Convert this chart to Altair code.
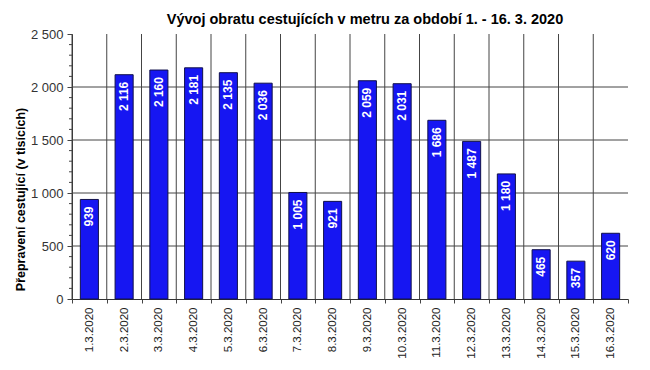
import altair as alt
import pandas as pd

dates = ["1.3.2020", "2.3.2020", "3.3.2020", "4.3.2020", "5.3.2020", "6.3.2020",
         "7.3.2020", "8.3.2020", "9.3.2020", "10.3.2020", "11.3.2020", "12.3.2020",
         "13.3.2020", "14.3.2020", "15.3.2020", "16.3.2020"]
passengers = [939, 2116, 2160, 2181, 2135, 2036, 1005, 921, 2059, 2031, 1686, 1487,
              1180, 465, 357, 620]
y_ticks = [0, 500, 1000, 1500, 2000, 2500]
h_grid = [500, 1000, 1500, 2000]
minor_ticks = [v for v in range(100, 2500, 100) if v % 500 != 0]

FONT = "Liberation Sans"
GRID = "#444444"
Y_TITLE = "Přepravení cestující (v tisících)"

df = pd.DataFrame({"date": dates, "value": passengers})
df["label"] = [f"{v:,}".replace(",", " ") for v in passengers]

xscale = alt.Scale(domain=dates, paddingInner=0, paddingOuter=0)
yscale = alt.Scale(domain=[0, 2500], nice=False)

x_axis = alt.Axis(
    labelAngle=270,
    labelAlign="right",
    labelBaseline="middle",
    labelFont=FONT,
    labelFontSize=11.5,
    labelColor="#222222",
    labelPadding=4,
    tickBand="extent",
    tickSize=4,
    tickColor=GRID,
    domainColor="#333333",
    grid=False,
)
y_axis = alt.Axis(
    values=y_ticks,
    labelExpr="replace(format(datum.value, ','), ',', ' ')",
    labelFont=FONT,
    labelFontSize=13,
    labelColor="#333333",
    labelPadding=4,
    tickSize=5,
    tickColor=GRID,
    domainColor="#333333",
    grid=False,
    titleFont=FONT,
    titleFontSize=12.5,
    titleFontWeight="bold",
    titleColor="#000000",
    titleAngle=270,
    titleX=-52,
    titleY=165,
    titleAlign="center",
    titleBaseline="middle",
)

def X(field, **kw):
    return alt.X(field, scale=xscale, sort=None, title=None, axis=x_axis, **kw)

def Y(field):
    return alt.Y(field, scale=yscale, title=Y_TITLE, axis=y_axis)

hgrid = alt.Chart(pd.DataFrame({"value": h_grid})).mark_rule(
    color=GRID, strokeWidth=1
).encode(y=Y("value:Q"))

vgrid = alt.Chart(df).mark_rule(color=GRID, strokeWidth=1).encode(
    x=X("date:N", bandPosition=0)
)

minor = alt.Chart(pd.DataFrame({"value": minor_ticks})).mark_rule(
    color=GRID, strokeWidth=1
).encode(
    y=Y("value:Q"),
    x=alt.value(-3),
    x2=alt.value(0),
)

bars = alt.Chart(df).mark_bar(
    color="#1616F2", stroke="#10104a", strokeWidth=1, width={"band": 0.52}
).encode(
    x=X("date:N"),
    y=Y("value:Q"),
)

labels = alt.Chart(df).mark_text(
    angle=270,
    align="right",
    baseline="middle",
    dx=-7,
    color="white",
    font=FONT,
    fontSize=12,
    fontWeight="bold",
).encode(
    x=X("date:N"),
    y=Y("value:Q"),
    text="label:N",
)

chart = alt.layer(hgrid, vgrid, minor, bars, labels).properties(
    width=556,
    height=265,
    autosize=alt.AutoSizeParams(type="none"),
    padding={"left": 64, "top": 26, "right": 14, "bottom": 60},
    background="white",
    title=alt.Title(
        "Vývoj obratu cestujících v metru za období 1. - 16. 3. 2020",
        font=FONT,
        fontSize=14.5,
        fontWeight="bold",
        color="#000000",
        anchor="middle",
        dx=15,
        offset=1,
    ),
).configure_view(stroke=None)

chart.save("out.html", embed_options={"renderer": "svg", "actions": False})
